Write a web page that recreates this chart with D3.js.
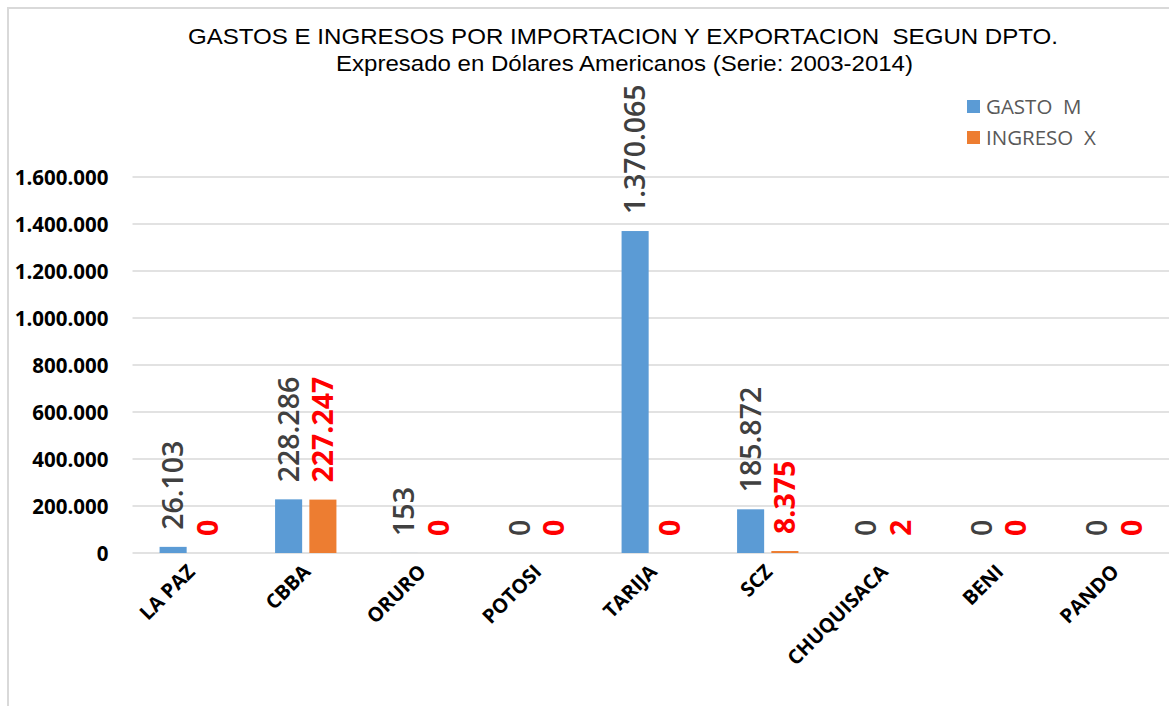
<!DOCTYPE html>
<html>
<head>
<meta charset="utf-8">
<script src="https://cdn.jsdelivr.net/npm/d3@7"></script>
<style>
  html, body { margin: 0; padding: 0; background: #fff; }
  svg { display: block; }
</style>
</head>
<body>
<svg id="chart" width="1169" height="706"></svg>
<script>
// Departamentos y montos (USD, serie 2003-2014)
const categories = ["LA PAZ", "CBBA", "ORURO", "POTOSI", "TARIJA", "SCZ", "CHUQUISACA", "BENI", "PANDO"];
const gastoM   = [26103, 228286, 153, 0, 1370065, 185872, 0, 0, 0];
const ingresoX = [0, 227247, 0, 0, 0, 8375, 2, 0, 0];
const seriesNames = ["GASTO  M", "INGRESO  X"];
const yTicks = [0, 200000, 400000, 600000, 800000, 1000000, 1200000, 1400000, 1600000];

const titleLines = [
  "GASTOS E INGRESOS POR IMPORTACION Y EXPORTACION  SEGUN DPTO.",
  "Expresado en Dólares Americanos (Serie: 2003-2014)"
];

const W = 1169, H = 706;
const plot = { left: 132.5, right: 1172, top: 177, bottom: 553 };
const colors = ["#5B9BD5", "#ED7D31"];
const labelColors = ["#404040", "#FF0000"];

const svg = d3.select("#chart");

// fondo y marco del área de gráfico
svg.append("rect").attr("width", W).attr("height", H).attr("fill", "#fff");
svg.append("path")
  .attr("d", `M8,706 V8 H${W}`)
  .attr("fill", "none").attr("stroke", "#D9D9D9").attr("stroke-width", 2);

// formato con punto como separador de miles
const fmt = d3.formatLocale({ decimal: ",", thousands: ".", grouping: [3], currency: ["$", ""] }).format(",d");

const x0 = d3.scaleBand().domain(categories).range([plot.left, plot.right]).paddingInner(0).paddingOuter(0);
const x1 = d3.scaleBand().domain([0, 1]).range([0, x0.bandwidth()]).paddingInner(0.21).paddingOuter(0.79);
const y = d3.scaleLinear().domain([0, 1600000]).range([plot.bottom, plot.top]);

// líneas de cuadrícula
svg.append("g")
  .selectAll("line").data(yTicks).join("line")
  .attr("x1", plot.left).attr("x2", W)
  .attr("y1", d => y(d)).attr("y2", d => y(d))
  .attr("stroke", "#D9D9D9").attr("stroke-width", 1.5);

// eje Y
const yAxis = svg.append("g")
  .attr("transform", `translate(${plot.left - 24},0)`)
  .call(d3.axisLeft(y).tickValues(yTicks).tickFormat(fmt).tickSize(0).tickPadding(0));
yAxis.select(".domain").remove();
yAxis.selectAll("text")
  .attr("font-family", "'Open Sans', sans-serif")
  .attr("font-size", 20.5).attr("font-weight", 700).attr("fill", "#000")
  .attr("dy", "0.36em");

// barras
const series = [gastoM, ingresoX];
const groups = svg.append("g").selectAll("g").data(categories).join("g")
  .attr("transform", d => `translate(${x0(d)},0)`);

groups.selectAll("rect")
  .data((d, i) => series.map((s, k) => ({ k, v: s[i] })))
  .join("rect")
  .attr("x", d => x1(d.k))
  .attr("width", x1.bandwidth())
  .attr("y", d => y(d.v))
  .attr("height", d => y(0) - y(d.v))
  .attr("fill", d => colors[d.k]);

// etiquetas de datos verticales
groups.selectAll("text.val")
  .data((d, i) => series.map((s, k) => ({ k, v: s[i] })))
  .join("text")
  .attr("class", "val")
  .attr("transform", d => `translate(${x1(d.k) + x1.bandwidth() / 2},${y(d.v) - 17}) rotate(-90)`)
  .attr("dy", "0.36em")
  .attr("text-anchor", "start")
  .attr("font-family", "'Open Sans', sans-serif")
  .attr("font-size", 28.5)
  .attr("font-weight", d => d.k === 0 ? 600 : 700)
  .attr("fill", d => labelColors[d.k])
  .text(d => fmt(d.v));

// eje X (etiquetas inclinadas)
svg.append("g").selectAll("text").data(categories).join("text")
  .attr("transform", d => `translate(${x0(d) + x0.bandwidth() / 2 + 1},${plot.bottom + 15}) rotate(-45)`)
  .attr("text-anchor", "end")
  .attr("dy", "0.35em")
  .attr("font-family", "'Open Sans', sans-serif")
  .attr("font-size", 20).attr("font-weight", 700).attr("fill", "#000")
  .text(d => d);

// título
const title = svg.append("g").attr("font-family", "'Liberation Sans', Arial, sans-serif").attr("fill", "#000");
title.append("text")
  .attr("x", 623).attr("y", 44).attr("text-anchor", "middle")
  .attr("font-size", 22).style("white-space", "pre")
  .attr("textLength", 870).attr("lengthAdjust", "spacingAndGlyphs")
  .text(titleLines[0]);
title.append("text")
  .attr("x", 624.5).attr("y", 71).attr("text-anchor", "middle")
  .attr("font-size", 21.5)
  .attr("textLength", 577).attr("lengthAdjust", "spacingAndGlyphs")
  .text(titleLines[1]);

// leyenda
const legend = svg.append("g").attr("transform", "translate(967,100)");
const li = legend.selectAll("g").data(seriesNames).join("g")
  .attr("transform", (d, i) => `translate(0,${i * 31})`);
li.append("rect").attr("width", 13).attr("height", 13).attr("fill", (d, i) => colors[i]);
li.append("text")
  .attr("x", 19).attr("y", 6.5).attr("dy", "0.36em")
  .attr("font-family", "'Open Sans', sans-serif").attr("font-size", 20.5)
  .attr("fill", "#595959").style("white-space", "pre")
  .text(d => d);
</script>
</body>
</html>
